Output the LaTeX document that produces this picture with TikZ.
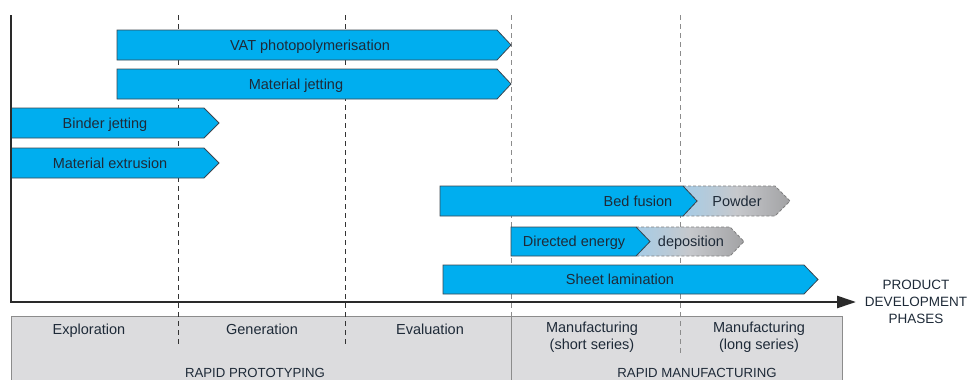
\documentclass[tikz,border=0pt]{standalone}
\usepackage{fontspec}
\setmainfont{Liberation Sans}
\usetikzlibrary{arrows.meta}
\definecolor{barblue}{HTML}{00AEEF}
\definecolor{barline}{HTML}{3C4650}
\definecolor{txt}{HTML}{1E2A38}
\definecolor{boxfill}{HTML}{DCDCDE}
\definecolor{boxline}{HTML}{8C8C8C}
\definecolor{fadeblue}{HTML}{A6CCE6}
\definecolor{fademid}{HTML}{C6C8CC}
\definecolor{fadegray}{HTML}{A2A2A4}
\definecolor{axiscol}{HTML}{2A2A2A}
\begin{document}
\begin{tikzpicture}[x=1pt,y=-1pt,
  bar/.style={fill=barblue, draw=barline, line width=0.8pt, line join=miter},
  ext/.style={draw=gray, dash pattern=on 3pt off 2pt, line width=0.8pt, left color=fadeblue, right color=fadegray, middle color=fademid},
  lbl/.style={text=txt, font=\fontsize{14.5}{17}\selectfont, inner sep=0pt, text height=10.4pt, text depth=0pt},
  phase/.style={text=txt, font=\fontsize{14.5}{17}\selectfont, inner sep=0pt, align=center, anchor=north},
  caplbl/.style={text=txt, font=\fontsize{13.2}{17}\selectfont, inner sep=0pt, text height=9.5pt, text depth=0pt},
  darkdash/.style={draw=black!80, line width=0.8pt, dash pattern=on 5pt off 4pt},
  greydash/.style={draw=black!45, line width=0.8pt, dash pattern=on 5pt off 4pt},
  axis/.style={draw=axiscol, line width=2.6pt, line join=miter}
]
\useasboundingbox (0,0) rectangle (970,380);

% bottom phase box
\fill[boxfill] (11,316) rectangle (842,380);
\draw[boxline, line width=1pt] (11,384) -- (11,316) -- (842,316) -- (842,384);
\draw[boxline, line width=1pt] (511,316) -- (511,384);

% dashed phase separators
\draw[darkdash] (178,15) -- (178,345);
\draw[darkdash] (345,15) -- (345,345);
\draw[greydash] (511,15) -- (511,316);
\draw[greydash] (680,15) -- (680,353);

% technology bars
\draw[bar] (117,30) -- (497,30) -- (511,45) -- (497,60) -- (117,60) -- cycle;
\draw[bar] (117,69) -- (497,69) -- (511,84) -- (497,99) -- (117,99) -- cycle;
\draw[bar] (11,108) -- (204,108) -- (219,123) -- (204,138) -- (11,138) -- cycle;
\draw[bar] (11,148) -- (204,148) -- (219,163) -- (204,178) -- (11,178) -- cycle;

\path[ext] (683,186) -- (775,186) -- (790,201) -- (775,216) -- (683,216) -- (697,201) -- cycle;
\draw[bar] (440,186) -- (683,186) -- (697,201) -- (683,216) -- (440,216) -- cycle;

\path[ext] (636,227) -- (730,227) -- (744,241.5) -- (730,256) -- (636,256) -- (650,241.5) -- cycle;
\draw[bar] (511,227) -- (636,227) -- (650,241.5) -- (636,256) -- (511,256) -- cycle;

\draw[bar] (443,265) -- (804,265) -- (818,279.5) -- (804,294) -- (443,294) -- cycle;

% axes
\coordinate (ytop) at (11,15);
\coordinate (xend) at (856,302);
\draw[axis, -{Triangle[length=19pt,width=12pt]}] (ytop) |- (xend);

% bar labels
\node[lbl] (vat) at (310,45) {VAT photopolymerisation};
\node[lbl] (mj) at (296,84) {Material jetting};
\node[lbl] (bj) at (105,123) {Binder jetting};
\node[lbl] (me) at (110,163) {Material extrusion};
\node[lbl] (bf) at (638,201) {Bed fusion};
\node[lbl] (pw) at (737,201) {Powder};
\node[lbl] (de) at (574,241.5) {Directed energy};
\node[lbl] (dp) at (691,241.5) {deposition};
\node[lbl] (sl) at (620,279.5) {Sheet lamination};

% axis label
\node[text=txt, font=\fontsize{13.5}{17}\selectfont, inner sep=0pt, align=center, anchor=north] (pdp) at (916,280) {PRODUCT\\DEVELOPMENT\\PHASES};

% phase labels
\node[lbl] (expl) at (89,329) {Exploration};
\node[lbl] (gen) at (262,329) {Generation};
\node[lbl] (eval) at (430,329) {Evaluation};
\node[phase] (mss) at (592,322) {Manufacturing\\(short series)};
\node[phase] (mls) at (759,322) {Manufacturing\\(long series)};
\node[caplbl] (rp) at (255,373) {RAPID PROTOTYPING};
\node[caplbl] (rm) at (697,373) {RAPID MANUFACTURING};
\end{tikzpicture}
\end{document}
